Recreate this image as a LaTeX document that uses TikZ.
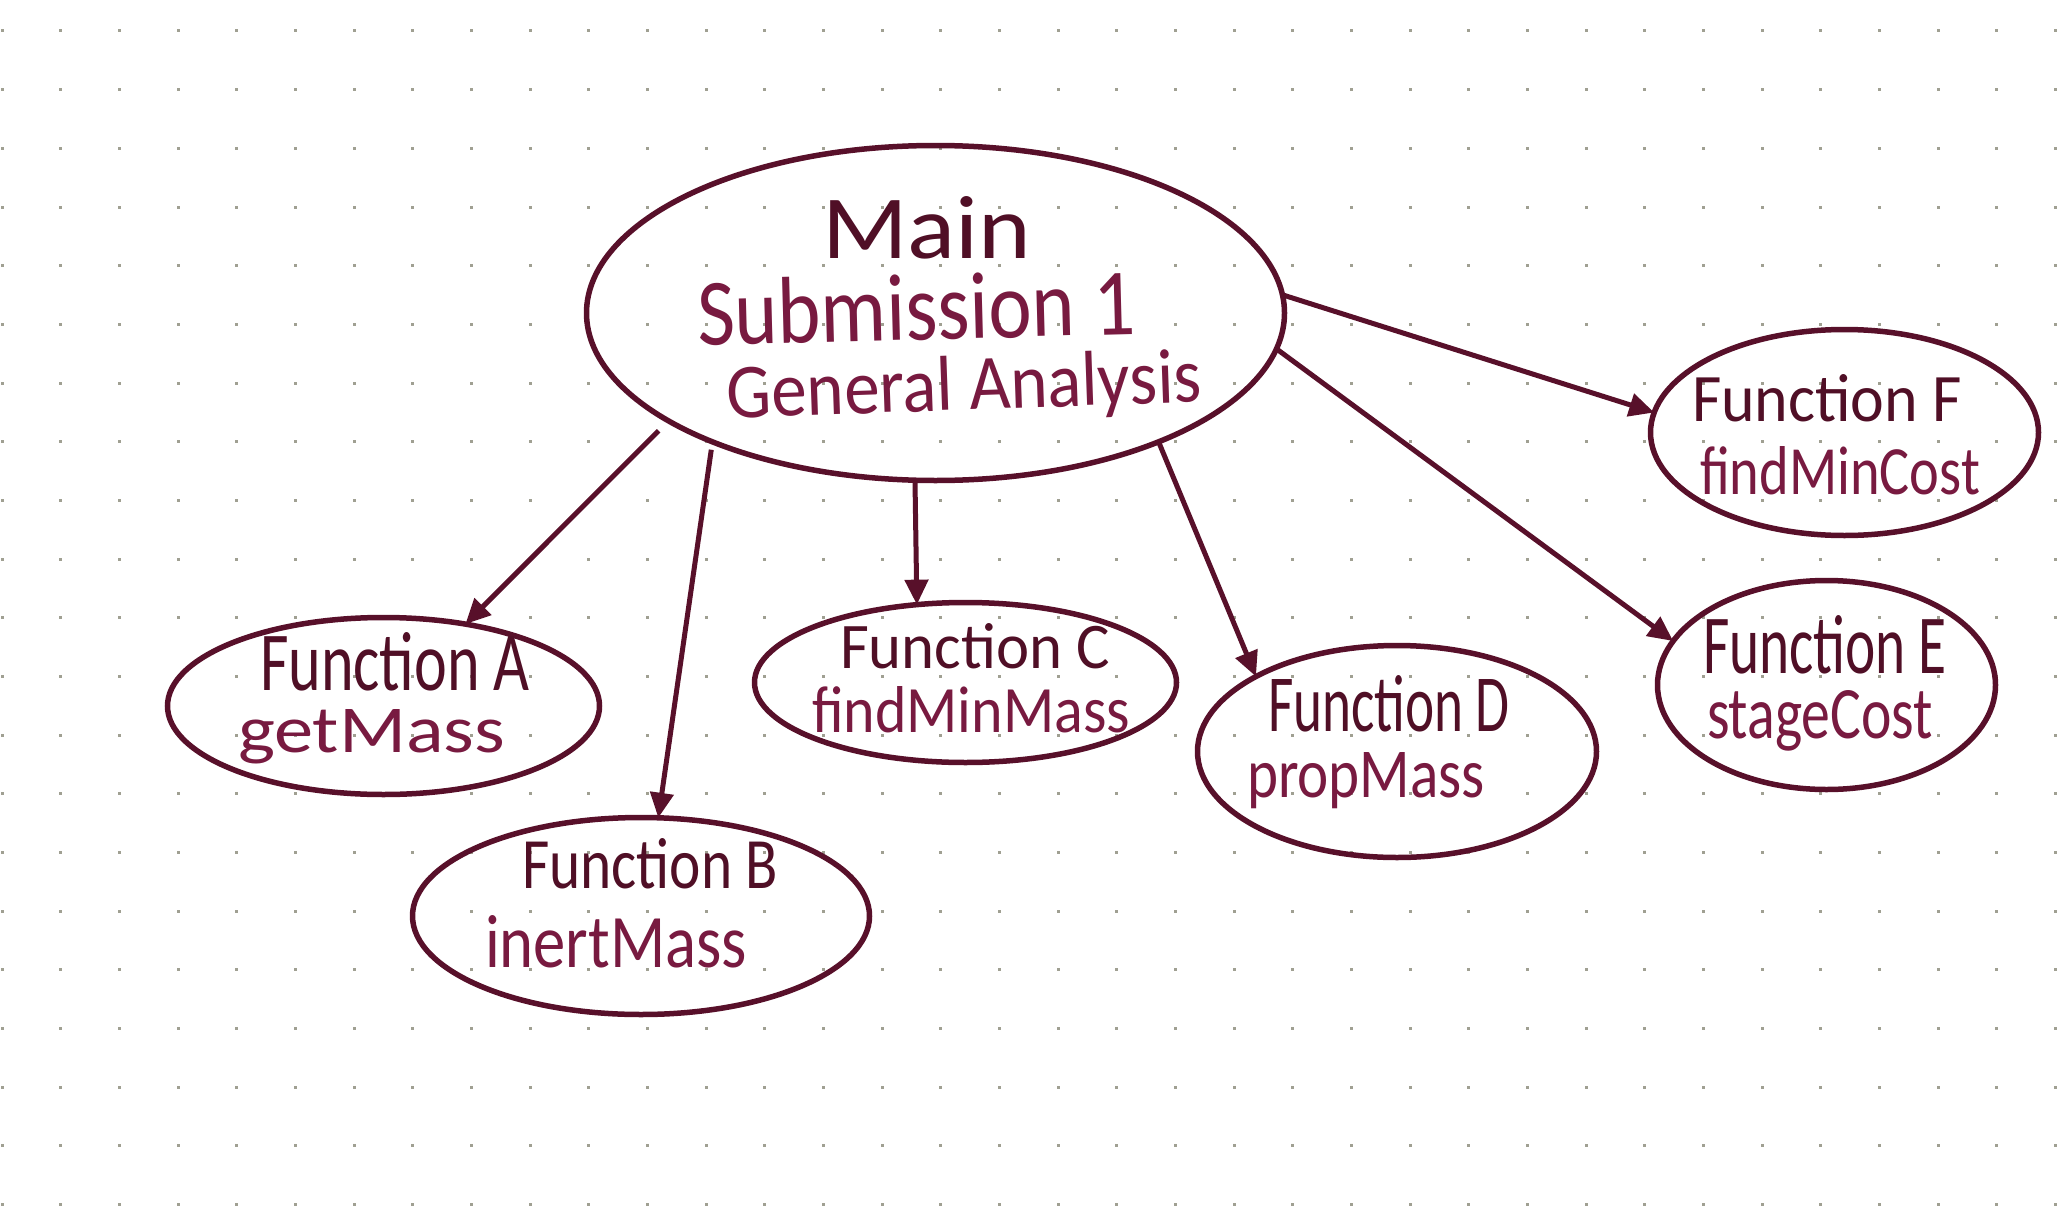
\documentclass[tikz,border=0pt]{standalone}
\usepackage{graphicx}
\usepackage{fontspec}
\setmainfont{Carlito}
\usetikzlibrary{arrows.meta,shapes.geometric}
\definecolor{lineC}{RGB}{88,16,42}
\definecolor{txtA}{RGB}{80,15,38}
\definecolor{txtB}{RGB}{120,26,64}
\definecolor{dotC}{RGB}{160,160,146}
\newcommand\hwtxt[3]{\resizebox{#1pt}{#2pt}{#3}}
\begin{document}
\begin{tikzpicture}[x=1pt,y=-1pt,
  bub/.style={ellipse, draw=lineC, line width=5.5pt, inner sep=0pt, outer sep=0pt},
  conn/.style={draw=lineC, line width=5pt, -{Triangle[length=25pt,width=23pt]}},
  lbl/.style={inner sep=0pt, outer sep=0pt, font=\fontsize{40}{48}\selectfont},
  headtxt/.style={lbl, text=txtA, anchor=base west},
  subtxt/.style={lbl, text=txtB, anchor=base west}]
\fill[white] (0,0) rectangle (2059,1207);
\useasboundingbox (0,0) rectangle (2059,1207);
\foreach \i in {0,...,35}{\foreach \j in {0,...,20}{\fill[dotC] ({2+58.67*\i-1.5},{31+58.67*\j-1.5}) rectangle ++(3,3);}}

% bubbles
\node[bub, minimum width=698pt, minimum height=335pt] (main) at (935.5,313) {};
\node[bub, minimum width=432pt, minimum height=177pt] (fa) at (383.5,706) {};
\node[bub, minimum width=457pt, minimum height=197pt] (fb) at (641,916) {};
\node[bub, minimum width=422pt, minimum height=160pt] (fc) at (965.5,682.5) {};
\node[bub, minimum width=399pt, minimum height=212pt] (fd) at (1397,751.5) {};
\node[bub, minimum width=338pt, minimum height=209pt] (fe) at (1826.5,685) {};
\node[bub, minimum width=388pt, minimum height=206pt] (ff) at (1844.5,432.5) {};

% texts
\node[headtxt] (m1) at (822,258) {\hwtxt{209}{62}{Main}};
\node[lbl, text=txtB, anchor=base, rotate=1.5] (m2) at (917,340) {\hwtxt{438}{66}{Submission 1}};
\node[lbl, text=txtB, anchor=base, rotate=2] (m3) at (965,410) {\hwtxt{475}{54}{General Analysis}};

\node[headtxt] (a1) at (260,690) {\hwtxt{270}{58}{Function A}};
\node[subtxt] (a2) at (238,752) {\hwtxt{267}{43}{getMass}};
\node[headtxt] (b1) at (522,888) {\hwtxt{256}{50}{Function B}};
\node[subtxt] (b2) at (485,967) {\hwtxt{262}{52}{inertMass}};
\node[headtxt] (c1) at (840,668) {\hwtxt{270}{45}{Function C}};
\node[subtxt] (c2) at (812,732) {\hwtxt{318}{46}{findMinMass}};
\node[headtxt] (d1) at (1268,731) {\hwtxt{242}{56}{Function D}};
\node[subtxt] (d2) at (1247,797) {\hwtxt{238}{45}{propMass}};
\node[headtxt] (e1) at (1703,673) {\hwtxt{244}{58}{Function E}};
\node[subtxt] (e2) at (1707,738) {\hwtxt{226}{48}{stageCost}};
\node[headtxt] (f1) at (1692,421) {\hwtxt{270}{47}{Function F}};
\node[subtxt] (f2) at (1700,494) {\hwtxt{280}{48}{findMinCost}};

% connectors
\draw[conn, shorten <=14pt] (main.202.1) -- (fa.45.5);
\draw[conn, shorten <=8pt] (main.210.7) -- (fb.80.5);
\draw[conn, shorten <=2pt] (main.263.2) -- (fc.122);
\draw[conn, shorten <=2pt] (main.330) -- (fd.152.6);
\draw[conn] (main.354) -- (fe.164.1);
\draw[conn] (main.3.1) -- (ff.174.3);
\end{tikzpicture}
\end{document}
